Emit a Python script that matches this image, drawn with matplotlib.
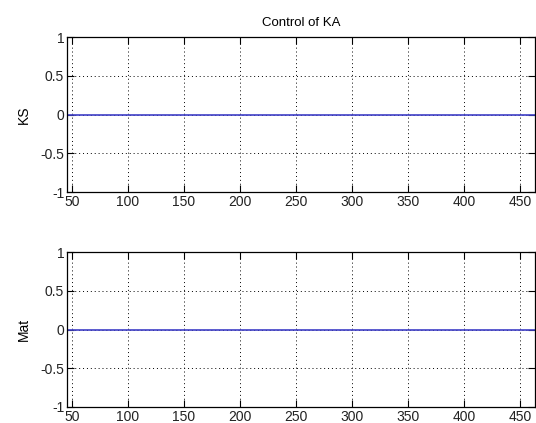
import matplotlib
matplotlib.use("Agg")
import matplotlib.pyplot as plt

# data: both signals stay flat at zero
time = [45, 464]
ks = [0, 0]
mat = [0, 0]

xticks = [50, 100, 150, 200, 250, 300, 350, 400, 450]
yticks = [-1, -0.5, 0, 0.5, 1]
ytick_labels = ["-1", "-0.5", "0", "0.5", "1"]

plt.rcParams['font.family'] = ['Liberation Sans', 'DejaVu Sans']
plt.rcParams['font.size'] = 10

fig = plt.figure(figsize=(5.36, 4.23), dpi=100)
ax1 = fig.add_axes([0.125, 0.546, 0.873, 0.366])
ax2 = fig.add_axes([0.125, 0.038, 0.873, 0.366])

for ax, y, label in [(ax1, ks, "KS"), (ax2, mat, "Mat")]:
    ax.plot(time, y, color=(0.25, 0.25, 0.78), linewidth=1.2)
    ax.set_xlim(45.5, 463.5)
    ax.set_ylim(-1, 1)
    ax.set_xticks(xticks)
    ax.set_yticks(yticks)
    ax.set_yticklabels(ytick_labels)
    ax.grid(True, color='black', linestyle=(0, (1, 3)), linewidth=0.7)
    ax.tick_params(direction='in', length=5, width=0.8, top=True, right=True,
                   colors='black', labelcolor='#222222', pad=2)
    for s in ax.spines.values():
        s.set_linewidth(0.9)
    ax.set_ylabel(label, labelpad=7)

ax1.set_title("Control of KA", fontsize=9.5, pad=8)

fig.savefig("out.png", dpi=100)
